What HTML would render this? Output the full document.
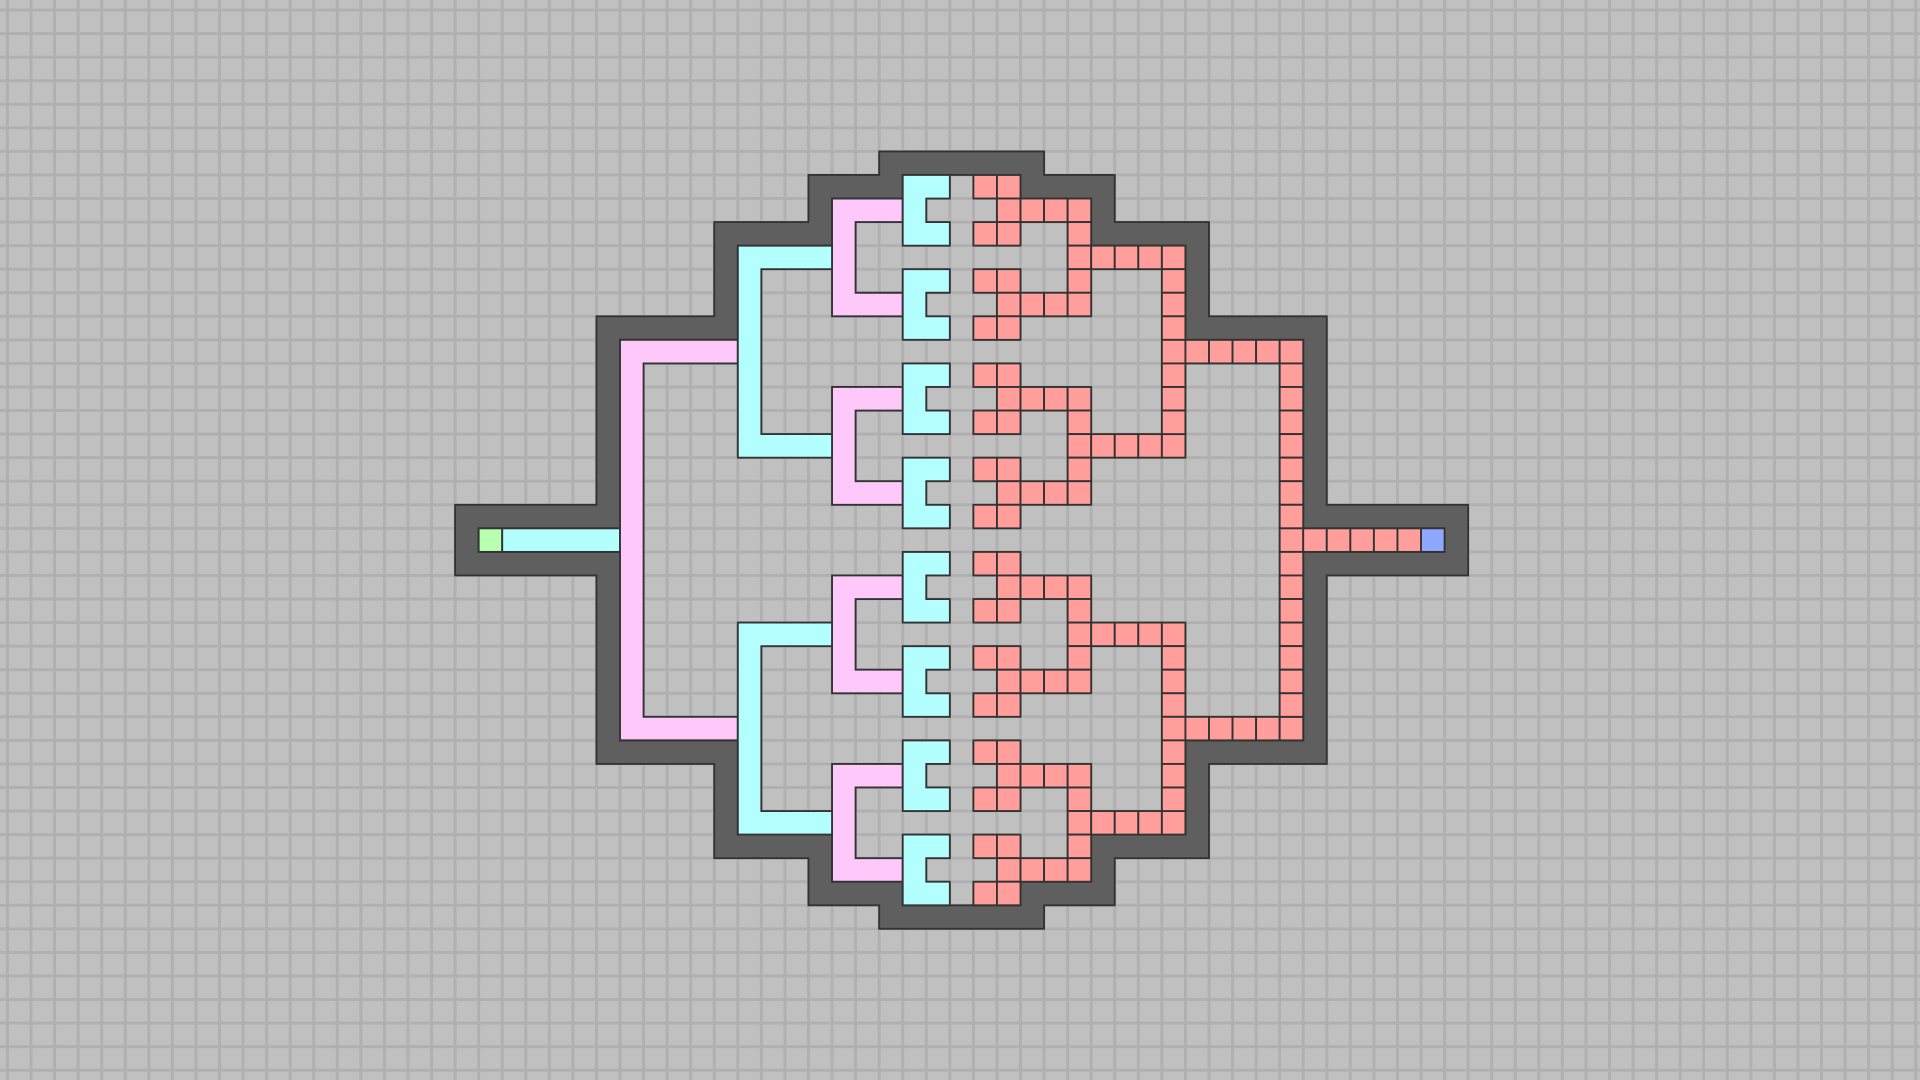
<!DOCTYPE html>
<html><head><meta charset="utf-8"><style>html,body{margin:0;padding:0;background:#c0c0c0;overflow:hidden}svg{display:block}</style></head>
<body>
<svg width="1920" height="1080" viewBox="0 0 1568 882" xmlns="http://www.w3.org/2000/svg">
<defs>
<pattern id="g" x="6.1" y="8.2" width="19.24" height="19.24" patternUnits="userSpaceOnUse">
<rect width="19.24" height="19.24" fill="#c0c0c0"/>
<rect x="0" y="0" width="1.2" height="19.24" fill="#b0b0b0"/>
<rect x="18.04" y="0" width="1.2" height="19.24" fill="#b0b0b0"/>
<rect x="0" y="0" width="19.24" height="1.2" fill="#b0b0b0"/>
<rect x="0" y="18.04" width="19.24" height="1.2" fill="#b0b0b0"/>
</pattern>
<rect id="r" width="1" height="1"/>
</defs>
<rect width="1568" height="882" fill="url(#g)"/>
<g transform="translate(6.1,8.2) scale(19.24)" stroke="#333" stroke-width="0.08" stroke-linejoin="miter">
<path fill="#5f5f5f" fill-rule="evenodd" d="M37 6H44V7H47V9H51V13H56V21H62V24H56V32H51V36H47V38H44V39H37V38H34V36H30V32H25V24H19V21H25V13H30V9H34V7H37Z
M38 7H43V8H46V10H50V14H55V22H61V23H55V31H50V35H46V37H43V38H38V37H35V35H31V31H26V23H20V22H26V14H31V10H35V8H38Z"/>
<path fill="url(#g)" stroke="none" transform="translate(-0.317,-0.426) scale(0.05198)" d=""/>
<rect x="20" y="22" width="1" height="1" fill="#b8ffb0"/>
<rect x="21" y="22" width="5" height="1" fill="#b3ffff"/>
<rect x="60" y="22" width="1" height="1" fill="#8fa8ff"/>
<g fill="#ffc8fa">
<path d="M26 14H31V15H27V30H31V31H26Z"/>
<path d="M35 8H38V9H36V12H38V13H35Z"/>
<path d="M35 16H38V17H36V20H38V21H35Z"/>
<path d="M35 24H38V25H36V28H38V29H35Z"/>
<path d="M35 32H38V33H36V36H38V37H35Z"/>
</g>
<g fill="#b3ffff">
<path d="M31 10H35V11H32V18H35V19H31Z"/>
<path d="M31 26H35V27H32V34H35V35H31Z"/>
<path d="M38 7H40V8H39V9H40V10H38Z"/>
<path d="M38 11H40V12H39V13H40V14H38Z"/>
<path d="M38 15H40V16H39V17H40V18H38Z"/>
<path d="M38 19H40V20H39V21H40V22H38Z"/>
<path d="M38 23H40V24H39V25H40V26H38Z"/>
<path d="M38 27H40V28H39V29H40V30H38Z"/>
<path d="M38 31H40V32H39V33H40V34H38Z"/>
<path d="M38 35H40V36H39V37H40V38H38Z"/>
</g>
<g fill="#ff9e9a">
<g id="grp">
<use href="#r" x="41" y="7"/><use href="#r" x="42" y="7"/>
<use href="#r" x="42" y="8"/><use href="#r" x="43" y="8"/><use href="#r" x="44" y="8"/><use href="#r" x="45" y="8"/>
<use href="#r" x="41" y="9"/><use href="#r" x="42" y="9"/><use href="#r" x="45" y="9"/>
<use href="#r" x="45" y="10"/><use href="#r" x="46" y="10"/><use href="#r" x="47" y="10"/><use href="#r" x="48" y="10"/><use href="#r" x="49" y="10"/>
<use href="#r" x="41" y="11"/><use href="#r" x="42" y="11"/><use href="#r" x="45" y="11"/>
<use href="#r" x="42" y="12"/><use href="#r" x="43" y="12"/><use href="#r" x="44" y="12"/><use href="#r" x="45" y="12"/>
<use href="#r" x="41" y="13"/><use href="#r" x="42" y="13"/>
</g>
<use href="#grp" y="8"/><use href="#grp" y="16"/><use href="#grp" y="24"/>
<g id="col49">
<use href="#r" x="49" y="11"/><use href="#r" x="49" y="12"/><use href="#r" x="49" y="13"/><use href="#r" x="49" y="14"/><use href="#r" x="49" y="15"/><use href="#r" x="49" y="16"/><use href="#r" x="49" y="17"/>
<use href="#r" x="50" y="14"/><use href="#r" x="51" y="14"/><use href="#r" x="52" y="14"/><use href="#r" x="53" y="14"/><use href="#r" x="54" y="14"/>
</g>
<use href="#col49" y="16"/>
<use href="#r" x="54" y="15"/><use href="#r" x="54" y="16"/><use href="#r" x="54" y="17"/><use href="#r" x="54" y="18"/><use href="#r" x="54" y="19"/><use href="#r" x="54" y="20"/><use href="#r" x="54" y="21"/><use href="#r" x="54" y="22"/><use href="#r" x="54" y="23"/><use href="#r" x="54" y="24"/><use href="#r" x="54" y="25"/><use href="#r" x="54" y="26"/><use href="#r" x="54" y="27"/><use href="#r" x="54" y="28"/><use href="#r" x="54" y="29"/>
<use href="#r" x="55" y="22"/><use href="#r" x="56" y="22"/><use href="#r" x="57" y="22"/><use href="#r" x="58" y="22"/><use href="#r" x="59" y="22"/>
</g>
</g>
</svg>
</body></html>
